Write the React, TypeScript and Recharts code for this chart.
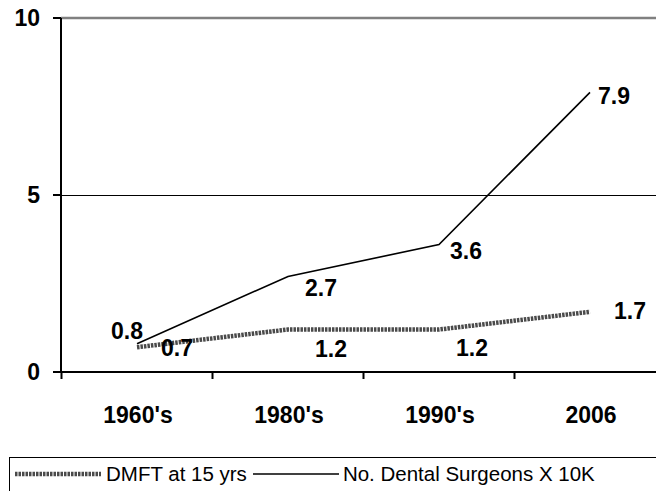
import React from "react";
import {
  LineChart, Line, XAxis, YAxis, CartesianGrid, ReferenceLine, LabelList
} from "recharts";

const periods = ["1960's", "1980's", "1990's", "2006"];
const dmftValues = [0.7, 1.2, 1.2, 1.7];
const surgeonValues = [0.8, 2.7, 3.6, 7.9];
const yTicks = [0, 5, 10];
const dmftName = "DMFT at 15 yrs";
const surgeonName = "No. Dental Surgeons X 10K";

const data = periods.map((p, i) => ({
  period: p,
  dmft: dmftValues[i],
  surgeons: surgeonValues[i],
}));

const FONT = "Arial, Liberation Sans, Helvetica, sans-serif";

// where the value labels sit relative to their point (px)
const surgeonOffsets = [[-10, -13], [33, 12], [27, 6], [24, 4]];
const dmftOffsets = [[40, 1], [43, 19], [33, 18], [40, -1]];

const dmftStroke = { stroke: "#4a4a4a", strokeWidth: 4.5, strokeDasharray: "2.5 1" };
const surgeonStroke = { stroke: "#000", strokeWidth: 1.6 };

function makeLabel(offsets: number[][]) {
  return (props: any) => {
    const { x, y, value, index } = props;
    const [dx, dy] = offsets[index] || [0, 0];
    return (
      <text
        x={x + dx}
        y={y + dy}
        textAnchor="middle"
        dominantBaseline="central"
        style={{ fontFamily: FONT, fontWeight: 700, fontSize: 23 }}
        fill="#000"
      >
        {value}
      </text>
    );
  };
}

// category labels sit on the points, tick marks sit halfway between them
function PeriodTick(props: any) {
  const { x, y, payload } = props;
  const half = 75.5;
  return (
    <g>
      <line x1={x - half} x2={x - half} y1={y - 7} y2={y} stroke="#000" strokeWidth={2} />
      <text
        x={x + 1}
        y={y + 36}
        textAnchor="middle"
        dominantBaseline="central"
        style={{ fontFamily: FONT, fontWeight: 700, fontSize: 23 }}
        fill="#000"
      >
        {payload.value}
      </text>
    </g>
  );
}

function LegendSample({ style }: { style: any }) {
  return (
    <svg width={86} height={10} style={{ display: "block" }}>
      <line x1={0} x2={86} y1={5} y2={5} {...style} />
    </svg>
  );
}

export default function App() {
  return (
    <div
      style={{
        position: "absolute",
        left: 0,
        top: 0,
        width: 656,
        height: 491,
        overflow: "hidden",
        background: "#fff",
        fontFamily: FONT,
      }}
    >
      <LineChart
        width={656}
        height={491}
        data={data}
        margin={{ top: 18, right: 0, left: 0, bottom: 59 }}
      >
        <CartesianGrid vertical={false} stroke="#000" strokeWidth={1} shapeRendering="crispEdges" />
        <ReferenceLine y={10} stroke="#808080" strokeWidth={2.5} />
        <XAxis
          dataKey="period"
          padding={{ left: 76, right: 66 }}
          height={60}
          tickLine={false}
          tickSize={7}
          tickMargin={0}
          axisLine={{ stroke: "#000", strokeWidth: 2 }}
          tick={<PeriodTick />}
          interval={0}
        />
        <YAxis
          domain={[0, 10]}
          ticks={yTicks}
          width={61}
          tickSize={8}
          tickMargin={13}
          axisLine={{ stroke: "#000", strokeWidth: 2 }}
          tickLine={{ stroke: "#000", strokeWidth: 2 }}
          tick={{ style: { fontFamily: FONT, fontWeight: 700, fontSize: 23 }, fill: "#000" }}
        />
        <Line
          type="linear"
          dataKey="dmft"
          name={dmftName}
          dot={false}
          isAnimationActive={false}
          {...dmftStroke}
        >
          <LabelList dataKey="dmft" content={makeLabel(dmftOffsets)} />
        </Line>
        <Line
          type="linear"
          dataKey="surgeons"
          name={surgeonName}
          dot={false}
          isAnimationActive={false}
          {...surgeonStroke}
        >
          <LabelList dataKey="surgeons" content={makeLabel(surgeonOffsets)} />
        </Line>
      </LineChart>

      {/* legend box runs off the bottom and right edge in the original */}
      <div
        style={{
          position: "absolute",
          left: 9,
          top: 457,
          width: 700,
          height: 60,
          border: "1.5px solid #000",
          boxSizing: "border-box",
          display: "flex",
          alignItems: "flex-start",
          paddingTop: 6,
          paddingLeft: 5,
          fontSize: 20.5,
          color: "#000",
          lineHeight: "20px",
          whiteSpace: "nowrap",
        }}
      >
        <div style={{ marginTop: 5 }}>
          <LegendSample style={dmftStroke} />
        </div>
        <span style={{ marginLeft: 5 }}>{dmftName}</span>
        <div style={{ marginTop: 5, marginLeft: 6 }}>
          <LegendSample style={surgeonStroke} />
        </div>
        <span style={{ marginLeft: 4 }}>{surgeonName}</span>
      </div>
    </div>
  );
}
